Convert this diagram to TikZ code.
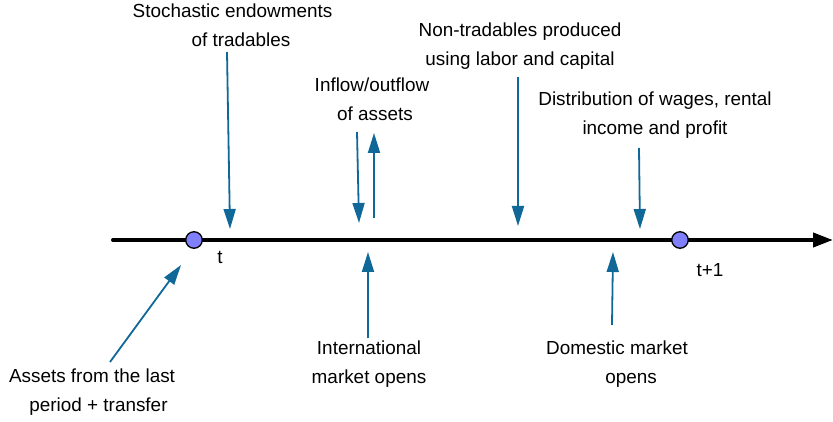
\documentclass[tikz,border=0pt]{standalone}
\usepackage{fontspec}
\setmainfont{Liberation Sans}
\usepackage{tikz}
\usetikzlibrary{arrows.meta, positioning}
\usepackage{xcolor}
\definecolor{arrowblue}{RGB}{16,104,152}
\definecolor{dotblue}{RGB}{128,128,255}

\begin{document}
\begin{tikzpicture}
		[   x=1pt,y=-1pt,
		    dot/.style={draw=black,line width=1.3pt,fill=#1,minimum size=16.5pt,inner sep=0pt,circle},
		    lbl/.style={align=center,inner sep=0pt,font=\fontsize{18.9}{28.5}\selectfont},
		]
		\tikzset{flow arrow/.style={draw=arrowblue,line width=1.8pt,-{Triangle[length=20pt,width=12pt]}}}
		\tikzset{time arrow/.style={draw=black,line width=4pt,line cap=round,-{Triangle[length=20pt,width=14pt]}}}
		\useasboundingbox (0,0) rectangle (833,422);
		
		% time axis
		\coordinate (axis-start) at (113,240);
		\coordinate (axis-end) at (833,240);
		\path[time arrow] (axis-start) -- (axis-end);
		
		\node[dot=dotblue] (t-0) at (194,240) {};
		\node[dot=dotblue] (t-1) at (680,240) {};
		\node[lbl] (t-0-lbl) at (220,257) {t};
		\node[lbl] (t-1-lbl) at (710,270) {t+1};
		
		% events above the axis
		\node[lbl] (endow) at (232.5,25) {Stochastic endowments\\\hspace*{17pt}of tradables};
		\node[lbl] (flow) at (372,99) {Inflow/outflow\\\hspace*{6pt}of assets};
		\node[lbl] (nontrad) at (520,46) {Non-tradables produced\\using labor and capital};
		\node[lbl] (distr) at (655,115) {Distribution of wages, rental\\income and profit};
		
		% events below the axis
		\node[lbl] (intl) at (369,364) {International\\market opens};
		\node[lbl] (dom) at (617,364) {Domestic market\\\hspace*{28pt}opens};
		\node[lbl] (assets) at (92,392) {Assets from the last\\\hspace*{13pt}period + transfer};
		
		\coordinate (endow-a) at (227,52);
		\coordinate (endow-b) at (230,229);
		\coordinate (flow-in-a) at (357,132);
		\coordinate (flow-in-b) at (359,223);
		\coordinate (flow-out-a) at (374,218);
		\coordinate (flow-out-b) at (374,133);
		\coordinate (nontrad-a) at (518,77);
		\coordinate (nontrad-b) at (518,226);
		\coordinate (distr-a) at (639,148);
		\coordinate (distr-b) at (640,229);
		\coordinate (intl-a) at (368,338);
		\coordinate (intl-b) at (368,252);
		\coordinate (dom-a) at (612,325);
		\coordinate (dom-b) at (613,252);
		\coordinate (assets-a) at (110,362);
		\coordinate (assets-b) at (181,265);
		
		\foreach \e in {endow,flow-in,flow-out,nontrad,distr,intl,dom,assets}
		{
			\path[flow arrow] (\e-a) -- (\e-b);
		}
		
\end{tikzpicture}
\end{document}
